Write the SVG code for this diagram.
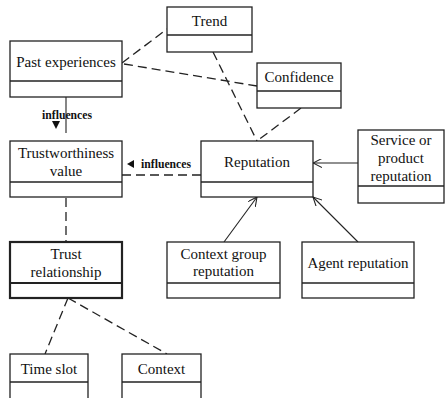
<svg xmlns="http://www.w3.org/2000/svg" width="445" height="398" viewBox="0 0 445 398" font-family="Liberation Serif, serif">
  <style>
    .box { fill: #fff; stroke: #222; stroke-width: 1.3; }
    .bold { stroke-width: 2.2; }
    .div { stroke: #222; stroke-width: 1.3; }
    .t { font-family: 'Liberation Serif', serif; font-size: 15px; fill: #111; text-anchor: middle; }
    .lbl { font-family: 'Liberation Serif', serif; font-size: 11.7px; fill: #111; font-weight: bold; }
    .dash { fill: none; stroke: #222; stroke-width: 1.3; stroke-dasharray: 9 5; }
    .solid { fill: none; stroke: #222; stroke-width: 1.1; }
  </style>
  <defs>
    <marker id="open" viewBox="0 0 10 10" refX="10" refY="5" markerWidth="9" markerHeight="9" markerUnits="userSpaceOnUse" orient="auto">
      <path d="M0,0 L10,5 L0,10" fill="none" stroke="#222" stroke-width="1.2"/>
    </marker>
  </defs>

  <g id="connectors">
    <line class="dash" x1="122" y1="63" x2="167" y2="29"/>
    <line class="dash" x1="124" y1="64" x2="257" y2="86"/>
    <line class="dash" x1="213" y1="52" x2="257" y2="141"/>
    <line class="dash" x1="301" y1="108" x2="257" y2="141"/>
    <line class="solid" x1="66" y1="97" x2="66" y2="133"/>
    <polygon points="52,121 60,121 56,129" fill="#111"/>
    <text class="lbl" x="42" y="119">influences</text>
    <line class="dash" x1="122" y1="175" x2="201" y2="175"/>
    <polygon points="127,164 134,160 134,168" fill="#111"/>
    <text class="lbl" x="141" y="168">influences</text>
    <line class="solid" x1="358" y1="163" x2="313" y2="163" marker-end="url(#open)"/>
    <line class="solid" x1="224" y1="242" x2="257" y2="197" marker-end="url(#open)"/>
    <line class="solid" x1="358" y1="242" x2="313" y2="197" marker-end="url(#open)"/>
    <line class="dash" x1="66" y1="198" x2="66" y2="242"/>
    <line class="dash" x1="68" y1="298" x2="45" y2="354"/>
    <line class="dash" x1="68" y1="298" x2="167" y2="354"/>
  </g>

  <g id="trend">
    <rect class="box" x="167" y="7" width="85" height="45"/>
    <line class="div" x1="167" y1="35" x2="252" y2="35"/>
    <text class="t" x="209.5" y="26">Trend</text>
  </g>
  <g id="past-experiences">
    <rect class="box" x="10" y="41" width="112" height="56"/>
    <line class="div" x1="10" y1="81" x2="122" y2="81"/>
    <text class="t" x="66" y="67">Past experiences</text>
  </g>
  <g id="confidence">
    <rect class="box" x="257" y="63" width="84" height="45"/>
    <line class="div" x1="257" y1="91" x2="341" y2="91"/>
    <text class="t" x="299" y="82">Confidence</text>
  </g>
  <g id="trustworthiness-value">
    <rect class="box" x="10" y="141" width="112" height="56"/>
    <line class="div" x1="10" y1="182" x2="122" y2="182"/>
    <text class="t" x="66" y="158">Trustworthiness</text>
    <text class="t" x="66" y="176">value</text>
  </g>
  <g id="reputation">
    <rect class="box" x="201" y="141" width="112" height="56"/>
    <line class="div" x1="201" y1="182" x2="313" y2="182"/>
    <text class="t" x="257" y="167">Reputation</text>
  </g>
  <g id="service-or-product-reputation">
    <rect class="box" x="358" y="130" width="86" height="73"/>
    <line class="div" x1="358" y1="186" x2="444" y2="186"/>
    <text class="t" x="401" y="145">Service or</text>
    <text class="t" x="401" y="163">product</text>
    <text class="t" x="401" y="181">reputation</text>
  </g>
  <g id="trust-relationship">
    <rect class="box bold" x="10" y="242" width="112" height="56"/>
    <line class="div" x1="10" y1="283" x2="122" y2="283" style="stroke-width:1.8"/>
    <text class="t" x="66" y="259">Trust</text>
    <text class="t" x="66" y="277">relationship</text>
  </g>
  <g id="context-group-reputation">
    <rect class="box" x="167" y="242" width="113" height="56"/>
    <line class="div" x1="167" y1="283" x2="280" y2="283"/>
    <text class="t" x="223.5" y="259">Context group</text>
    <text class="t" x="223.5" y="276">reputation</text>
  </g>
  <g id="agent-reputation">
    <rect class="box" x="302" y="242" width="112" height="56"/>
    <line class="div" x1="302" y1="283" x2="414" y2="283"/>
    <text class="t" x="358" y="268">Agent reputation</text>
  </g>
  <g id="time-slot">
    <rect class="box" x="10" y="354" width="78" height="50"/>
    <line class="div" x1="10" y1="382" x2="88" y2="382"/>
    <text class="t" x="49" y="374">Time slot</text>
  </g>
  <g id="context">
    <rect class="box" x="122" y="354" width="79" height="50"/>
    <line class="div" x1="122" y1="382" x2="201" y2="382"/>
    <text class="t" x="161.5" y="374">Context</text>
  </g>
</svg>
